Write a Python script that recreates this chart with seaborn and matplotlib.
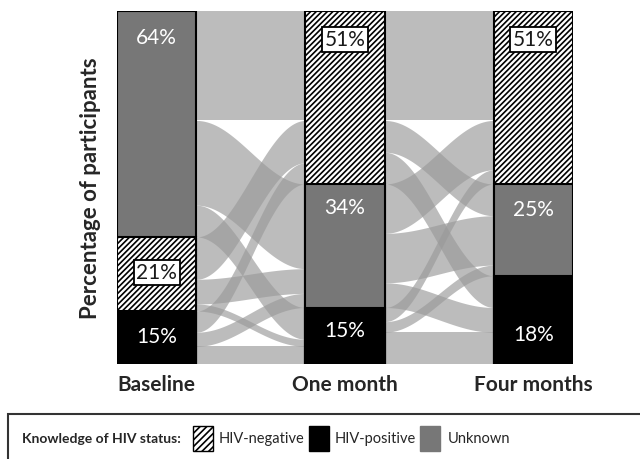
import numpy as np
import pandas as pd
import matplotlib
matplotlib.use("Agg")
import matplotlib.pyplot as plt
import seaborn as sns
from matplotlib.patches import Rectangle

STAGES = ["Baseline", "One month", "Four months"]

# stacking order of each bar, top to bottom
baseline_order = ["Unknown", "HIV-negative", "HIV-positive"]
one_month_order = ["HIV-negative", "Unknown", "HIV-positive"]
four_month_order = ["HIV-negative", "Unknown", "HIV-positive"]

# segment heights as drawn (% of bar height)
baseline_heights = {"Unknown": 64, "HIV-negative": 21, "HIV-positive": 15}
one_month_heights = {"HIV-negative": 49, "Unknown": 35, "HIV-positive": 16}
four_month_heights = {"HIV-negative": 49, "Unknown": 26, "HIV-positive": 25}

# printed percentages
baseline_labels = {"Unknown": "64%", "HIV-negative": "21%", "HIV-positive": "15%"}
one_month_labels = {"HIV-negative": "51%", "Unknown": "34%", "HIV-positive": "15%"}
four_month_labels = {"HIV-negative": "51%", "Unknown": "25%", "HIV-positive": "18%"}

# transitions (source status, target status, % of participants)
baseline_to_month = [
    ("Unknown", "HIV-negative", 31), ("Unknown", "Unknown", 24), ("Unknown", "HIV-positive", 9),
    ("HIV-negative", "HIV-negative", 12), ("HIV-negative", "Unknown", 7), ("HIV-negative", "HIV-positive", 2),
    ("HIV-positive", "HIV-negative", 6), ("HIV-positive", "Unknown", 4), ("HIV-positive", "HIV-positive", 5),
]
month_to_four = [
    ("HIV-negative", "HIV-negative", 31), ("HIV-negative", "Unknown", 9), ("HIV-negative", "HIV-positive", 9),
    ("Unknown", "HIV-negative", 14), ("Unknown", "Unknown", 14), ("Unknown", "HIV-positive", 7),
    ("HIV-positive", "HIV-negative", 4), ("HIV-positive", "Unknown", 3), ("HIV-positive", "HIV-positive", 9),
]

# --- style -------------------------------------------------------------------
COLORS = {"HIV-negative": "white", "HIV-positive": "black", "Unknown": "#777777"}
HATCH = "/" * 6
FLOW_COLOR = "#9a9a9a"
FLOW_ALPHA = 0.66
BAR_W = 0.42
LABEL_Y = {
    "Baseline": {"Unknown": 92.5, "HIV-negative": 26, "HIV-positive": 8},
    "One month": {"HIV-negative": 92, "Unknown": 44.5, "HIV-positive": 9.5},
    "Four months": {"HIV-negative": 92, "Unknown": 44, "HIV-positive": 8.5},
}

sns.set_theme(style="white")
plt.rcParams["font.family"] = ["Lato", "DejaVu Sans"]
plt.rcParams["hatch.linewidth"] = 1.2

orders = dict(zip(STAGES, [baseline_order, one_month_order, four_month_order]))
heights = dict(zip(STAGES, [baseline_heights, one_month_heights, four_month_heights]))
labels = dict(zip(STAGES, [baseline_labels, one_month_labels, four_month_labels]))

fig = plt.figure(figsize=(6.4, 4.6), dpi=100)
ax = fig.add_axes([117 / 640, 95 / 460, 456 / 640, 353 / 460])


def node_tops(stage):
    tops, y = {}, 100.0
    for s in orders[stage]:
        tops[s] = y
        y -= heights[stage][s]
    return tops


def draw_flows(ax, src, dst, flows, xi):
    src_cur, dst_cur = node_tops(src), node_tops(dst)
    src_rank = {s: i for i, s in enumerate(orders[src])}
    dst_rank = {s: i for i, s in enumerate(orders[dst])}
    # each ribbon sits in its source ordered by target, in its target ordered by source
    pos_src, pos_dst = {}, {}
    for f in sorted(flows, key=lambda f: (src_rank[f[0]], dst_rank[f[1]])):
        pos_src[f] = src_cur[f[0]]
        src_cur[f[0]] -= f[2]
    for f in sorted(flows, key=lambda f: (dst_rank[f[1]], src_rank[f[0]])):
        pos_dst[f] = dst_cur[f[1]]
        dst_cur[f[1]] -= f[2]
    x0, x1 = xi + BAR_W / 2, xi + 1 - BAR_W / 2
    t = np.linspace(0, 1, 100)
    s = (1 - np.cos(np.pi * t)) / 2
    xs = x0 + (x1 - x0) * t
    for f in flows:
        top = pos_src[f] + (pos_dst[f] - pos_src[f]) * s
        ax.fill_between(xs, top - f[2], top, color=FLOW_COLOR, alpha=FLOW_ALPHA,
                        linewidth=0, zorder=1)


draw_flows(ax, "Baseline", "One month", baseline_to_month, 0)
draw_flows(ax, "One month", "Four months", month_to_four, 1)

# stacked bars: cumulative heights drawn from the top segment downwards
for level in range(3):
    rows = []
    for st in STAGES:
        cum = sum(heights[st][s] for s in orders[st][level:])
        rows.append({"stage": st, "value": cum, "status": orders[st][level]})
    df = pd.DataFrame(rows)
    n_before = len(ax.patches)
    sns.barplot(data=df, x="stage", y="value", hue="stage", order=STAGES, hue_order=STAGES,
                palette=[COLORS[s] for s in df["status"]], width=BAR_W, saturation=1,
                edgecolor="black", linewidth=1.5, legend=False, ax=ax)
    new = sorted(ax.patches[n_before:], key=lambda p: p.get_x())
    for p, status in zip(new, df["status"]):
        p.set_zorder(3 + level)
        if status == "HIV-negative":
            p.set_hatch(HATCH)

# percentage labels
for i, st in enumerate(STAGES):
    for status in orders[st]:
        y = LABEL_Y[st][status]
        if status == "HIV-negative":
            ax.text(i, y, labels[st][status], ha="center", va="center", fontsize=15,
                    color="#1a1a1a", zorder=10,
                    bbox=dict(boxstyle="square,pad=0.12", fc="white", ec="black", lw=1.3))
        else:
            ax.text(i, y, labels[st][status], ha="center", va="center", fontsize=15,
                    color="white", zorder=10)

ax.set_xlim(-BAR_W / 2, 2 + BAR_W / 2)
ax.set_ylim(0, 100)
ax.set_yticks([])
ax.set_xticks(range(3))
ax.set_xticklabels(STAGES, fontsize=15, fontweight="bold")
ax.tick_params(axis="x", length=0, pad=7)
ax.set_xlabel("")
ax.set_ylabel("")
for sp in ax.spines.values():
    sp.set_visible(False)

fig.text(91 / 640, 1 - 188 / 460, "Percentage of participants", rotation=90,
         ha="center", va="center", fontsize=16, fontweight="bold")

# legend box at the bottom
fig.patches.append(Rectangle((8 / 640, -0.1), 1.0, 0.1 + 45 / 460, transform=fig.transFigure,
                             fill=False, ec="#333333", lw=1.5))
fig.text(22 / 640, 1 - 439 / 460, "Knowledge of HIV status:", fontsize=10,
         fontweight="bold", va="center", ha="left")
legend_items = [("HIV-negative", 193, 219), ("HIV-positive", 309, 335), ("Unknown", 420, 448)]
for status, px, tx in legend_items:
    r = Rectangle((px / 640, 1 - 452 / 460), 20 / 640, 25 / 460, transform=fig.transFigure,
                  fc=COLORS[status], ec="black", lw=1.0,
                  hatch="/////" if status == "HIV-negative" else None)
    if status == "Unknown":
        r.set_edgecolor(COLORS[status])
    fig.patches.append(r)
    fig.text(tx / 640, 1 - 439 / 460, status, fontsize=10.5, va="center", ha="left")

fig.savefig("out.png", dpi=100)
